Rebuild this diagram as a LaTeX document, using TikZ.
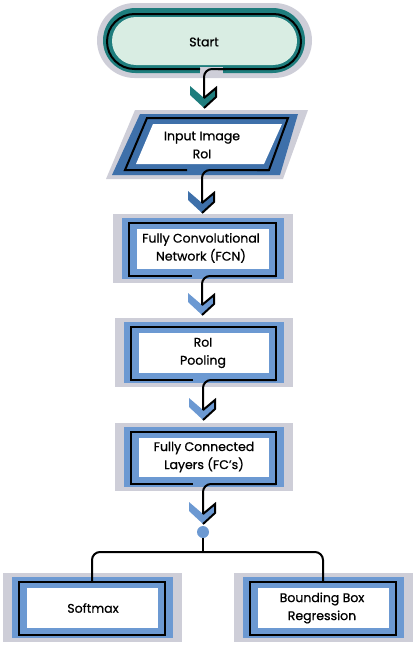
\documentclass[tikz,border=0pt]{standalone}
\usepackage{fontspec}
\setmainfont{Poppins}[FakeBold=0.8]
\usetikzlibrary{calc}
\definecolor{grayc}{RGB}{206,206,216}
\definecolor{tealc}{RGB}{30,125,125}
\definecolor{mintc}{RGB}{217,237,227}
\definecolor{dblue}{RGB}{62,112,170}
\definecolor{lblue}{RGB}{108,153,210}
\newcommand\chev[4]{% name, center x, top y, colour
  \fill[#4] (#2-14,#3) -- (#2,#3+12) -- (#2+12,#3+2) -- (#2+12,#3+11) -- (#2,#3+22) -- (#2-14,#3+9) -- cycle;
  \coordinate (#1) at (#2,#3+12);
  \coordinate (#1-tip) at (#2,#3+22);
  \coordinate (#1-r) at (#2+12,#3+2);
  \coordinate (#1-rb) at (#2+12,#3+11);
}
\newcommand\panel[6]{% name, L, T, R, B, band colour
  \fill[grayc] (#2,#3) rectangle (#4,#5);
  \fill[#6] (#2+9,#3+4) rectangle (#4-9,#5-4);
  \fill[white] (#2+24,#3+15) rectangle (#4-24,#5-14);
  \coordinate (#1-sw) at (#2+16,#5-7);
  \coordinate (#1-nw) at (#2+16,#3+9);
  \coordinate (#1-ne) at (#4-17,#3+9);
  \coordinate (#1-se) at (#4-17,#5-7);
}
\begin{document}
\begin{tikzpicture}[x=1pt,y=-1pt,
  blk/.style={draw=black,line width=2pt,line join=miter},
  txt/.style={font=\fontsize{12.5}{18}\selectfont,align=center,inner sep=0pt},
  arm/.style={draw=black,line width=2pt,line join=miter}]
\useasboundingbox (0,0) rectangle (415,645);
% ---------- Start
\fill[grayc,rounded corners=37.5pt] (97,3) rectangle (312,78);
\fill[tealc,rounded corners=32.5pt] (103,8) rectangle (305,73);
\fill[mintc,rounded corners=24pt] (112,17) rectangle (297,65);
\fill[grayc] (200,67) rectangle (223,73.5);
\node[txt] (start) at (204,42) {Start};
\coordinate (start-out) at (226,69);
\draw[blk,rounded corners=27.5pt] (200,69) -- (107,69) -- (107,14) -- (301,14) -- (301,69) -- (218,69);
\chev{ch1}{204}{86}{tealc}
\draw[blk,rounded corners=8pt] (start-out) -| (ch1);
\draw[arm] (ch1) -- (ch1-r) -- (ch1-rb) -- (ch1-tip);
% ---------- Input
\fill[grayc] (135,110) -- (308,110) -- (283,179) -- (106,179) -- cycle;
\fill[dblue] (140,114) -- (298,114) -- (280,175) -- (112,175) -- cycle;
\fill[white] (153,124) -- (282,124) -- (264,164) -- (136,164) -- cycle;
\coordinate (in-sw) at (125,170);
\coordinate (in-nw) at (147,118);
\coordinate (in-ne) at (288,118);
\coordinate (in-se) at (269,170);
\node[txt] (input) at (202,145) {Input Image\\RoI};
\chev{ch2}{202}{191}{dblue}
\draw[blk] (187,170) -- (in-sw) -- (in-nw) -- (in-ne) -- (in-se) -- ++(-12,0);
\draw[blk,rounded corners=8pt] (in-se) -| (ch2);
\draw[arm] (ch2) -- (ch2-r) -- (ch2-rb) -- (ch2-tip);
% ---------- FCN
\panel{fcnb}{113}{214}{293}{283}{lblue}
\node[txt] (fcn) at (201,248) {Fully Convolutional\\Network (FCN)};
\chev{ch3}{202}{293}{lblue}
\draw[blk] ($(fcnb-sw -| ch3)+(-10,0)$) -- (fcnb-sw) -- (fcnb-nw) -- (fcnb-ne) -- (fcnb-se) -- ++(-12,0);
\draw[blk,rounded corners=8pt] (fcnb-se) -| (ch3);
\draw[arm] (ch3) -- (ch3-r) -- (ch3-rb) -- (ch3-tip);
% ---------- RoI Pooling
\panel{poolb}{115}{318}{293}{387}{lblue}
\node[txt] (pool) at (203,353) {RoI\\Pooling};
\chev{ch4}{203}{398}{lblue}
\draw[blk] ($(poolb-sw -| ch4)+(-10,0)$) -- (poolb-sw) -- (poolb-nw) -- (poolb-ne) -- (poolb-se) -- ++(-12,0);
\draw[blk,rounded corners=8pt] (poolb-se) -| (ch4);
\draw[arm] (ch4) -- (ch4-r) -- (ch4-rb) -- (ch4-tip);
% ---------- FC
\panel{fcb}{115}{423}{293}{491}{lblue}
\node[txt] (fc) at (204,457) {Fully Connected\\Layers (FC's)};
\chev{ch5}{203}{502}{lblue}
\draw[blk] ($(fcb-sw -| ch5)+(-10,0)$) -- (fcb-sw) -- (fcb-nw) -- (fcb-ne) -- (fcb-se) -- ++(-12,0);
\draw[blk,rounded corners=8pt] (fcb-se) -| (ch5);
\draw[arm] (ch5) -- (ch5-r) -- (ch5-rb) -- (ch5-tip);
% ---------- branch
\node[circle,fill=lblue,minimum size=12pt,inner sep=0pt] (dot) at (203,532) {};
\coordinate (br) at (203,552);
% ---------- Softmax / BBox
\panel{softb}{3}{573}{182}{642}{lblue}
\panel{bbb}{234}{573}{413}{642}{lblue}
\draw[blk] (softb-sw) rectangle (softb-ne);
\draw[blk] (bbb-sw) rectangle (bbb-ne);
\node[txt] (soft) at (93,608) {Softmax};
\node[txt] (bbox) at (322,608) {Bounding Box\\Regression};
\coordinate (soft-in) at ($(softb-nw)!0.5!(softb-ne)$);
\coordinate (bbox-in) at ($(bbb-nw)!0.5!(bbb-ne)$);
\draw[blk] (dot) -- (br);
\draw[blk,rounded corners=8pt] (soft-in) |- (br) -| (bbox-in);
\end{tikzpicture}
\end{document}
